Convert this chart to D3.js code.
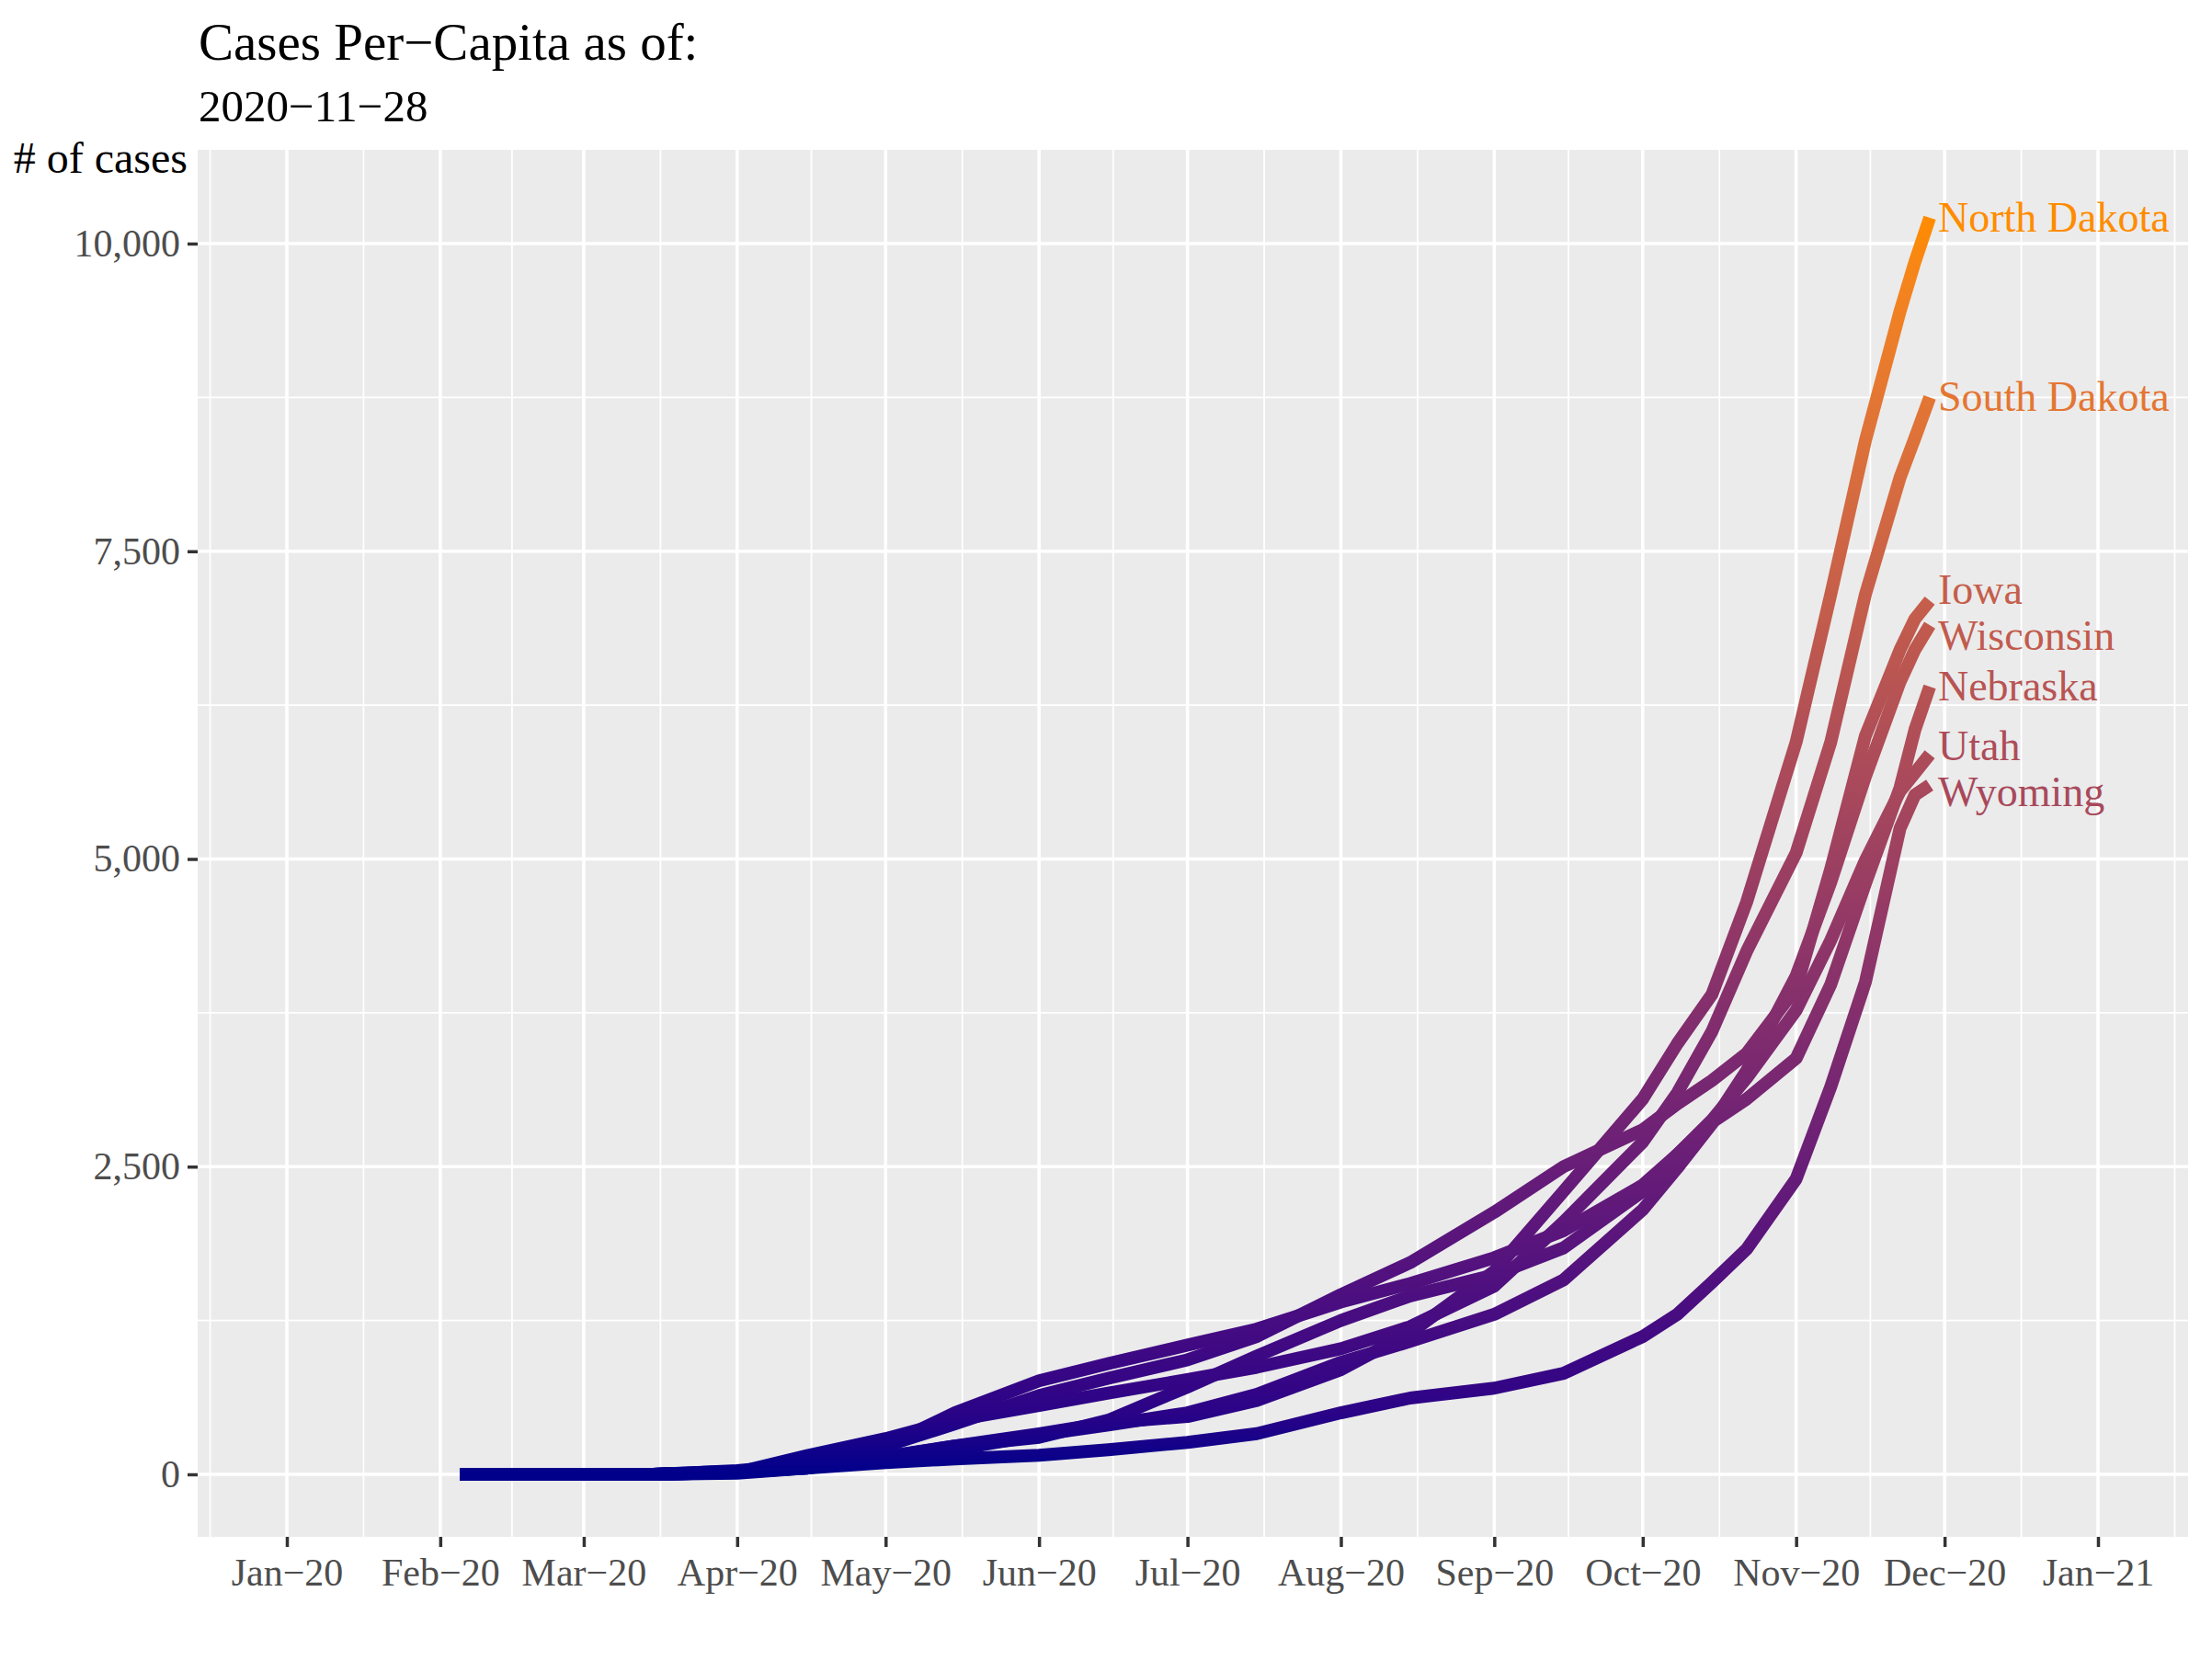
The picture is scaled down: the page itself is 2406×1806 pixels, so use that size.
<!DOCTYPE html>
<html>
<head>
  <meta charset="utf-8">
  <title>Cases Per-Capita</title>
  <script src="https://d3js.org/d3.v7.min.js"></script>
  <style>
    body {
      margin: 0;
      background-color: white;
    }

    text {
      font-family: "Liberation Serif", "DejaVu Serif", serif;
    }
  </style>
</head>
<body>
  <svg id="chart" width="2406" height="1806"></svg>

  <script>
    // ----------- DATA -----------------------------------------------------
    const dates = [
      "2020-02-05", "2020-03-01", "2020-03-15", "2020-04-01", "2020-04-15",
      "2020-05-01", "2020-05-15", "2020-06-01", "2020-06-15", "2020-07-01",
      "2020-07-15", "2020-08-01", "2020-08-15", "2020-09-01", "2020-09-15",
      "2020-10-01", "2020-10-08", "2020-10-15", "2020-10-22", "2020-11-01",
      "2020-11-08", "2020-11-15", "2020-11-22", "2020-11-25", "2020-11-28"
    ];

    const states = ["North Dakota", "South Dakota", "Iowa", "Wisconsin", "Nebraska", "Utah", "Wyoming"];

    // cumulative cases per 100k
    const northDakota = [0, 0, 0, 17, 50, 140, 230, 330, 420, 470, 600, 850, 1150, 1650, 2300, 3050, 3500, 3900, 4650, 5950, 7150, 8400, 9450, 9850, 10210];
    const southDakota = [0, 0, 0, 15, 150, 290, 440, 560, 660, 770, 870, 1020, 1200, 1530, 2050, 2700, 3100, 3600, 4250, 5050, 5950, 7150, 8100, 8420, 8750];
    const iowa = [0, 0, 0, 17, 65, 230, 410, 640, 780, 930, 1120, 1460, 1720, 2130, 2500, 2800, 3010, 3200, 3420, 3950, 4920, 6000, 6700, 6950, 7100];
    const wisconsin = [0, 0, 0, 20, 60, 120, 200, 320, 400, 500, 650, 910, 1080, 1300, 1580, 2150, 2490, 2850, 3280, 4050, 4810, 5670, 6440, 6700, 6900];
    const nebraska = [0, 0, 0, 10, 50, 230, 500, 760, 900, 1050, 1180, 1400, 1550, 1760, 1980, 2350, 2600, 2860, 3050, 3380, 3980, 4800, 5580, 6050, 6400];
    const utah = [0, 0, 0, 30, 80, 145, 230, 300, 440, 710, 960, 1250, 1450, 1620, 1840, 2300, 2600, 2880, 3220, 3770, 4340, 4990, 5550, 5700, 5850];
    const wyoming = [0, 0, 0, 25, 50, 95, 125, 155, 200, 260, 330, 500, 620, 700, 820, 1120, 1300, 1560, 1830, 2400, 3150, 4000, 5250, 5520, 5600];

    const seriesValues = [northDakota, southDakota, iowa, wisconsin, nebraska, utah, wyoming];

    const yTicks = [0, 2500, 5000, 7500, 10000];
    const yMinorTicks = [1250, 3750, 6250, 8750];

    const titleText = "Cases Per\u2212Capita as of:";
    const subtitleText = "2020\u221211\u221228";
    const yAxisTitle = "# of cases";

    // ----------- LAYOUT ---------------------------------------------------
    const panel = { left: 215, right: 2380, top: 163, bottom: 1672 };
    const parseDate = d3.utcParse("%Y-%m-%d");

    const x = d3.scaleUtc()
      .domain([parseDate("2020-01-01"), parseDate("2021-01-01")])
      .range([312, 2282]);

    const y = d3.scaleLinear()
      .domain([0, 10000])
      .range([1604, 265]);

    const maxValue = d3.max(seriesValues, v => d3.max(v));
    const colorScale = d3.scaleLinear()
      .domain([0, maxValue])
      .range(["#00008B", "#FF8C00"])
      .interpolate(d3.interpolateLab);

    const svg = d3.select("#chart");

    // panel background
    svg.append("rect")
      .attr("x", panel.left)
      .attr("y", panel.top)
      .attr("width", panel.right - panel.left)
      .attr("height", panel.bottom - panel.top)
      .attr("fill", "#EBEBEB");

    // month breaks and the minor breaks half way between them
    const months = d3.utcMonth.range(parseDate("2019-12-01"), parseDate("2021-03-01"));
    const majorMonths = months.filter(m => x(m) >= panel.left && x(m) <= panel.right);
    const minorX = [];
    for (let i = 0; i < months.length - 1; i++) {
      const mid = (x(months[i]) + x(months[i + 1])) / 2;
      if (mid > panel.left && mid < panel.right) minorX.push(mid);
    }

    const grid = svg.append("g");

    grid.selectAll(".minor-x")
      .data(minorX)
      .join("line")
      .attr("x1", d => d).attr("x2", d => d)
      .attr("y1", panel.top).attr("y2", panel.bottom)
      .attr("stroke", "white").attr("stroke-width", 1.8);

    grid.selectAll(".minor-y")
      .data(yMinorTicks)
      .join("line")
      .attr("x1", panel.left).attr("x2", panel.right)
      .attr("y1", d => y(d)).attr("y2", d => y(d))
      .attr("stroke", "white").attr("stroke-width", 1.8);

    grid.selectAll(".major-x")
      .data(majorMonths)
      .join("line")
      .attr("x1", d => x(d)).attr("x2", d => x(d))
      .attr("y1", panel.top).attr("y2", panel.bottom)
      .attr("stroke", "white").attr("stroke-width", 3.6);

    grid.selectAll(".major-y")
      .data(yTicks)
      .join("line")
      .attr("x1", panel.left).attr("x2", panel.right)
      .attr("y1", d => y(d)).attr("y2", d => y(d))
      .attr("stroke", "white").attr("stroke-width", 3.6);

    // axes
    const xAxis = d3.axisBottom(x)
      .tickValues(majorMonths)
      .tickFormat(d => d3.utcFormat("%b")(d) + "\u2212" + d3.utcFormat("%y")(d))
      .tickSize(11)
      .tickPadding(12);

    const xAxisG = svg.append("g")
      .attr("transform", `translate(0,${panel.bottom})`)
      .call(xAxis);

    const yAxis = d3.axisLeft(y)
      .tickValues(yTicks)
      .tickFormat(d3.format(","))
      .tickSize(11)
      .tickPadding(8);

    const yAxisG = svg.append("g")
      .attr("transform", `translate(${panel.left},0)`)
      .call(yAxis);

    [xAxisG, yAxisG].forEach(g => {
      g.select(".domain").remove();
      g.selectAll(".tick line").attr("stroke", "#333333").attr("stroke-width", 3.5);
      g.selectAll(".tick text")
        .attr("fill", "#4D4D4D")
        .attr("font-size", 42)
        .attr("font-family", "Liberation Serif, DejaVu Serif, serif");
    });
    xAxisG.selectAll(".tick text").attr("dy", "0.71em");

    // colour gradient follows the value (vertical position)
    const defs = svg.append("defs");
    const gradient = defs.append("linearGradient")
      .attr("id", "value-gradient")
      .attr("gradientUnits", "userSpaceOnUse")
      .attr("x1", 0).attr("x2", 0)
      .attr("y1", y(0)).attr("y2", y(maxValue));
    d3.range(0, 1.0001, 0.05).forEach(t => {
      gradient.append("stop")
        .attr("offset", `${t * 100}%`)
        .attr("stop-color", colorScale(t * maxValue));
    });

    const clip = defs.append("clipPath").attr("id", "panel-clip");
    clip.append("rect")
      .attr("x", panel.left).attr("y", panel.top)
      .attr("width", panel.right - panel.left)
      .attr("height", panel.bottom - panel.top);

    const line = d3.line()
      .x((d, i) => x(parseDate(dates[i])))
      .y(d => y(d));

    svg.append("g")
      .attr("clip-path", "url(#panel-clip)")
      .selectAll("path")
      .data(seriesValues)
      .join("path")
      .attr("d", d => line(d))
      .attr("fill", "none")
      .attr("stroke", "url(#value-gradient)")
      .attr("stroke-width", 14)
      .attr("stroke-linejoin", "round")
      .attr("stroke-linecap", "butt");

    // end labels, nudged apart where they would overlap
    const lastDate = parseDate(dates[dates.length - 1]);
    const labels = states.map((s, i) => {
      const v = seriesValues[i][seriesValues[i].length - 1];
      return { name: s, value: v, ly: y(v) };
    }).sort((a, b) => a.ly - b.ly);

    const minGap = 50;
    for (let iter = 0; iter < 50; iter++) {
      for (let i = 1; i < labels.length; i++) {
        const gap = labels[i].ly - labels[i - 1].ly;
        if (gap < minGap) {
          const push = (minGap - gap) / 2;
          labels[i].ly += push;
          labels[i - 1].ly -= push;
        }
      }
    }

    svg.append("g")
      .selectAll("text")
      .data(labels)
      .join("text")
      .attr("x", x(lastDate) + 9)
      .attr("y", d => d.ly + 15)
      .attr("font-size", 46)
      .attr("fill", d => colorScale(d.value))
      .text(d => d.name);

    // titles
    svg.append("text")
      .attr("x", 216)
      .attr("y", 65)
      .attr("font-size", 57)
      .attr("fill", "black")
      .text(titleText);

    svg.append("text")
      .attr("x", 216)
      .attr("y", 132)
      .attr("font-size", 49)
      .attr("fill", "black")
      .text(subtitleText);

    svg.append("text")
      .attr("x", 204)
      .attr("y", 188)
      .attr("text-anchor", "end")
      .attr("font-size", 48)
      .attr("fill", "black")
      .text(yAxisTitle);
  </script>
</body>
</html>
